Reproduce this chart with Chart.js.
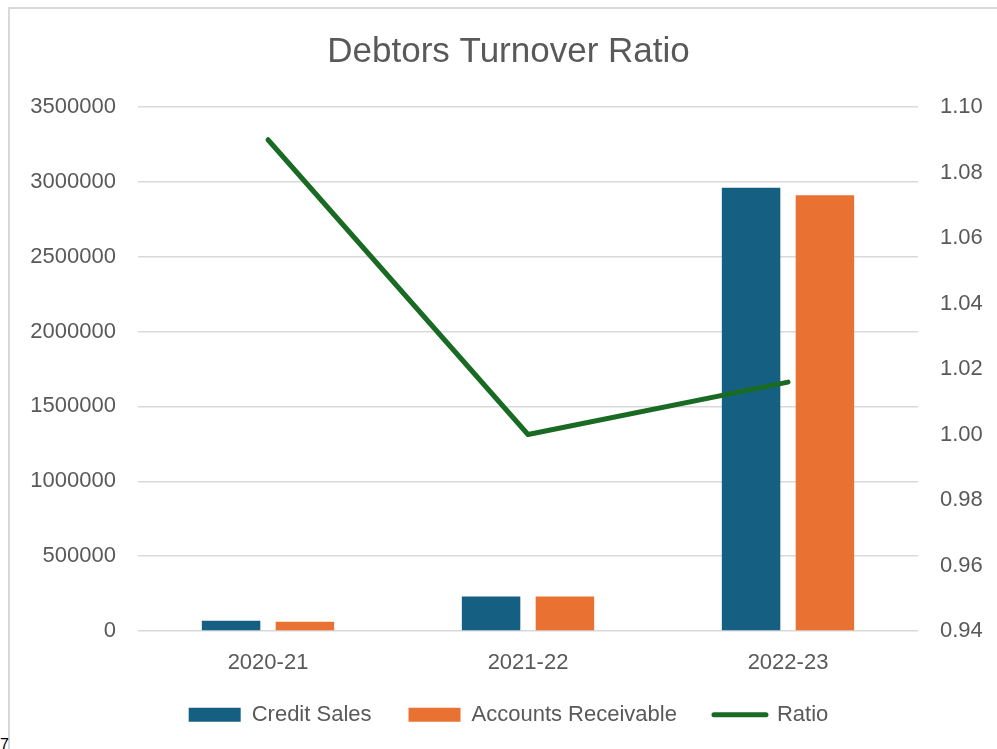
<!DOCTYPE html>
<html>
<head>
<meta charset="utf-8">
<title>Debtors Turnover Ratio</title>
<script src="https://cdn.jsdelivr.net/npm/chart.js@4"></script>
<style>
  body { margin: 0; background: #fff; overflow: hidden; }
  #frame { position: absolute; left: 8px; top: 7px; width: 1200px; height: 900px; border: 2px solid #d9d9d9; }
  #wrap { position: absolute; left: 0; top: 0; width: 997px; height: 749px; }
  #pageno { position: absolute; left: 0; top: 737px; font: 16px 'Liberation Sans', Arial, sans-serif; line-height: 1; color: #000; }
</style>
</head>
<body>
<div id="frame"></div>
<div id="pageno">7</div>
<div id="wrap"><canvas id="debtors"></canvas></div>
<script>
// values
const years = ['2020-21', '2021-22', '2022-23'];
const creditSales = [68000, 230000, 2960000];
const accountsReceivable = [62400, 230000, 2910000];
const ratio = [1.09, 1.00, 1.016];

const grey = '#595959';
const green = '#196B24';
Chart.defaults.font.family = "'Liberation Sans', Arial, sans-serif";
Chart.defaults.color = grey;

// legend needs a big padding for the item spacing, so move it up by hand
const legendNudge = {
  id: 'legendNudge',
  beforeDraw(chart) {
    const lg = chart.legend;
    if (!lg) return;
    const h = lg.height;
    lg.top = 717 - lg.options.labels.padding - 13.2;
    lg.bottom = lg.top + h;
  }
};

const ctx = document.getElementById('debtors').getContext('2d');
const debtorsChart = new Chart(ctx, {
  type: 'bar',
  data: {
    labels: years,
    datasets: [
      {
        label: 'Credit Sales',
        data: creditSales,
        backgroundColor: '#156082',
        yAxisID: 'y',
        order: 1,
        categoryPercentage: 0.568,
        barPercentage: 0.792
      },
      {
        label: 'Accounts Receivable',
        data: accountsReceivable,
        backgroundColor: '#E97132',
        yAxisID: 'y',
        order: 1,
        categoryPercentage: 0.568,
        barPercentage: 0.792
      },
      {
        type: 'line',
        label: 'Ratio',
        data: ratio,
        borderColor: green,
        backgroundColor: green,
        borderWidth: 5,
        borderCapStyle: 'round',
        borderJoinStyle: 'round',
        pointRadius: 0,
        tension: 0,
        yAxisID: 'y1',
        order: 0
      }
    ]
  },
  options: {
    responsive: true,
    maintainAspectRatio: false,
    animation: false,
    layout: { padding: { left: 20, right: 0, top: 0, bottom: 0 } },
    scales: {
      x: {
        grid: { display: false, drawTicks: false },
        border: { display: false },
        ticks: { padding: 19, font: { size: 22 } },
        afterFit: (scale) => { scale.height = 49; }
      },
      y: {
        position: 'left',
        min: 0,
        max: 3500000,
        ticks: {
          stepSize: 500000,
          padding: 22,
          font: { size: 22 },
          callback: (v) => String(v)
        },
        grid: { color: '#d9d9d9', lineWidth: 1.5, drawTicks: false },
        border: { display: false },
        afterFit: (scale) => { scale.width = 118; }
      },
      y1: {
        position: 'right',
        min: 0.94,
        max: 1.10,
        ticks: {
          stepSize: 0.02,
          padding: 22,
          font: { size: 22 },
          callback: (v) => Number(v).toFixed(2)
        },
        grid: { display: false, drawTicks: false },
        border: { display: false },
        afterFit: (scale) => { scale.width = 79; }
      }
    },
    plugins: {
      title: {
        display: true,
        text: 'Debtors Turnover Ratio',
        color: grey,
        font: { size: 35, weight: 'normal' },
        padding: { top: 31, bottom: 34 }
      },
      legend: {
        position: 'bottom',
        labels: {
          usePointStyle: true,
          pointStyleWidth: 52,
          boxHeight: 14,
          padding: 37,
          color: grey,
          font: { size: 22 },
          sort: (a, b) => a.datasetIndex - b.datasetIndex,
          generateLabels: (chart) => {
            const items = Chart.defaults.plugins.legend.labels.generateLabels(chart);
            items.forEach((item) => {
              if (item.datasetIndex === 2) {
                item.pointStyle = 'line';
                item.strokeStyle = green;
                item.lineWidth = 5;
                item.lineCap = 'round';
              } else {
                item.pointStyle = 'rect';
                item.lineWidth = 0;
              }
            });
            return items;
          }
        }
      },
      tooltip: { enabled: false }
    }
  },
  plugins: [legendNudge]
});
</script>
</body>
</html>
